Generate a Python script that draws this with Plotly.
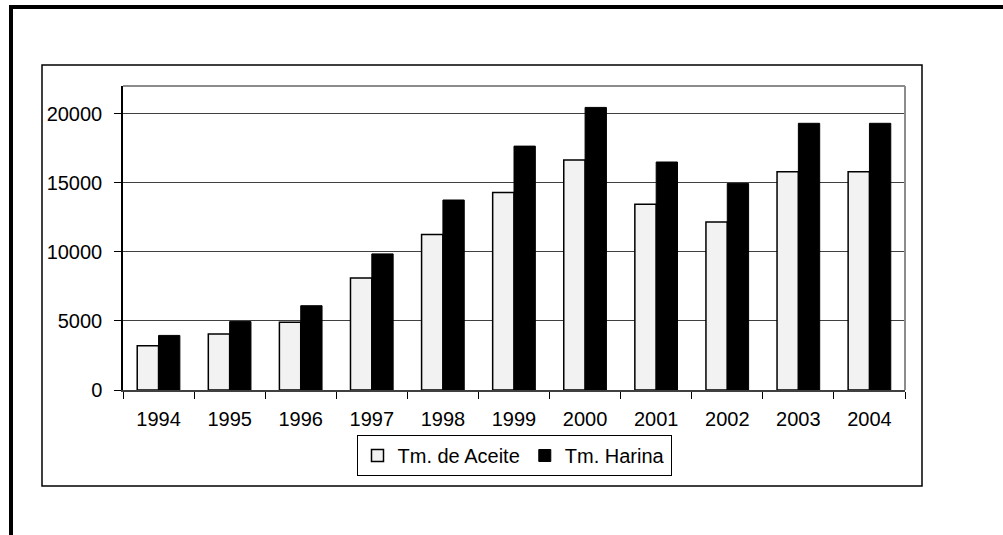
import plotly.graph_objects as go

years = ["1994", "1995", "1996", "1997", "1998", "1999", "2000", "2001", "2002", "2003", "2004"]
aceite = [3200, 4050, 4900, 8100, 11250, 14300, 16650, 13450, 12150, 15800, 15800]
harina = [3950, 4950, 6100, 9850, 13750, 17650, 20450, 16500, 14950, 19300, 19300]
y_ticks = [0, 5000, 10000, 15000, 20000]
y_tick_text = ["0", "5000", "10000", "15000", "20000"]

W, H = 1003, 535
L, R, T, B = 123, 905, 86, 390  # plot area in pixels


def px_x(p):
    return (p - L) / (R - L)


def px_y(p):
    return (B - p) / (B - T)


FONT = "Liberation Sans, Arial, sans-serif"
FS = 20

fig = go.Figure()
fig.add_trace(go.Bar(
    x=years, y=aceite, name="Tm. de Aceite",
    marker=dict(color="#f2f2f2", line=dict(color="#000000", width=1.5)),
))
fig.add_trace(go.Bar(
    x=years, y=harina, name="Tm. Harina",
    marker=dict(color="#000000", line=dict(color="#000000", width=1)),
))

shapes = [
    # outer frame: thick top and left edges
    dict(type="line", xref="paper", yref="paper",
         x0=px_x(9), x1=px_x(1003), y0=px_y(7), y1=px_y(7),
         line=dict(color="#000000", width=4)),
    dict(type="line", xref="paper", yref="paper",
         x0=px_x(11), x1=px_x(11), y0=px_y(5), y1=px_y(540),
         line=dict(color="#000000", width=4)),
    # chart area box
    dict(type="rect", xref="paper", yref="paper",
         x0=px_x(42), x1=px_x(922), y0=px_y(65), y1=px_y(486),
         line=dict(color="#000000", width=1.5), layer="below"),
    # plot area border on top and right
    dict(type="line", xref="paper", yref="paper",
         x0=0, x1=1, y0=1, y1=1, line=dict(color="#8c8c8c", width=2)),
    dict(type="line", xref="paper", yref="paper",
         x0=1, x1=1, y0=0, y1=1, line=dict(color="#8c8c8c", width=2)),
]

fig.update_layout(
    width=W, height=H,
    margin=dict(l=L, r=W - R, t=T, b=H - B, pad=0),
    paper_bgcolor="#ffffff", plot_bgcolor="#ffffff",
    barmode="group", bargap=0.4, bargroupgap=0,
    font=dict(family=FONT, size=FS, color="#000000"),
    showlegend=True,
    legend=dict(
        orientation="h", x=0.5, xanchor="center", y=px_y(435), yanchor="top",
        bordercolor="#000000", borderwidth=1, bgcolor="#ffffff",
        font=dict(family=FONT, size=FS, color="#000000"),
        itemwidth=30, tracegroupgap=0,
    ),
    xaxis=dict(
        type="category", tickson="boundaries", ticks="outside", ticklen=7,
        tickcolor="#000000", tickwidth=1, showline=True, linecolor="#404040",
        linewidth=2, showgrid=False, tickfont=dict(size=FS),
        ticklabelstandoff=10,
    ),
    yaxis=dict(
        range=[0, 22000], tickvals=y_ticks, ticktext=y_tick_text,
        ticks="outside", ticklen=7,
        tickcolor="#000000", tickwidth=1, showline=True, linecolor="#000000",
        linewidth=1.5, showgrid=True, gridcolor="#404040", gridwidth=1,
        zeroline=False, tickfont=dict(size=FS), ticklabelstandoff=8,
    ),
    shapes=shapes,
)

fig.write_html("out.html")
